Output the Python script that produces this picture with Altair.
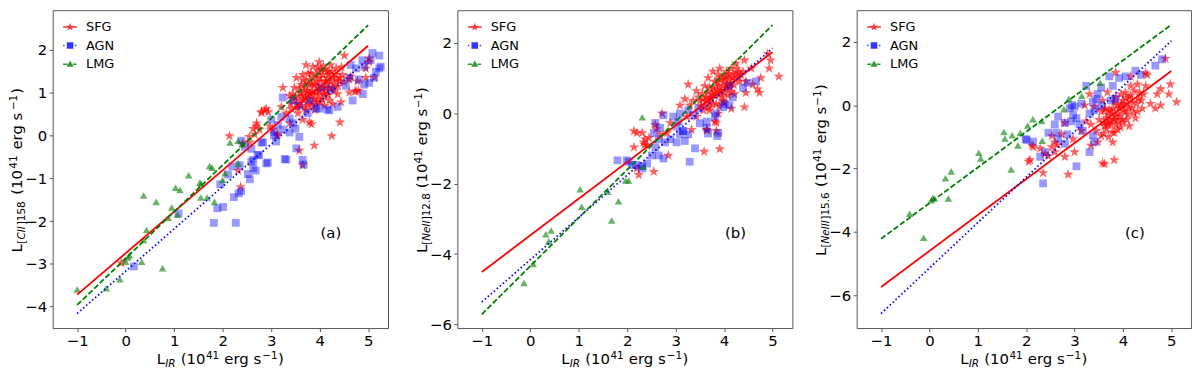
import math
import altair as alt
import pandas as pd

# ---------------- data ----------------
GROUPS = ["SFG", "AGN", "LMG"]
COLORS = ["#ff0000", "#0000ff", "#008000"]
X_TICKS = [-1, 0, 1, 2, 3, 4, 5]
A_Y_TICKS = [-4, -3, -2, -1, 0, 1, 2]
B_Y_TICKS = [-6, -4, -2, 0, 2]
C_Y_TICKS = [-6, -4, -2, 0, 2]
PANEL_LABELS = ["(a)", "(b)", "(c)"]

FIT_X = [-1.0, 5.0]
A_FIT_SFG = [-3.72, 2.10]
A_FIT_AGN = [-4.16, 1.78]
A_FIT_LMG = [-3.96, 2.58]
B_FIT_SFG = [-4.51, 1.73]
B_FIT_AGN = [-5.36, 1.84]
B_FIT_LMG = [-5.71, 2.50]
C_FIT_SFG = [-5.74, 1.08]
C_FIT_AGN = [-6.58, 2.03]
C_FIT_LMG = [-4.22, 2.54]

A_SFG = [(-0.09, -2.98), (2.14, -0.01), (2.32, -0.82), (2.37, -1.2), (2.41, -0.18), (2.55, -0.16),
         (2.55, -0.03), (2.63, 0.16), (2.66, 0.03), (2.7, 0.22), (2.7, 0.29), (2.76, 0.14), (2.8, 0.56),
         (2.8, 0.53), (2.87, 0.59), (2.9, 0.63), (2.94, 0.55), (2.97, 0.22), (3.03, 0.14), (3.14, 0.03),
         (3.12, 0.0), (3.21, 0.67), (3.24, 1.12), (3.31, 0.52), (3.38, 0.93), (3.38, 0.29), (3.41, 0.63),
         (3.4, 0.74), (3.45, 0.97), (3.45, 0.86), (3.48, 1.12), (3.52, 0.74), (3.52, 1.35), (3.55, 0.52),
         (3.58, 0.82), (3.58, -0.35), (3.62, 0.93), (3.62, 1.19), (3.65, 1.42), (3.65, 0.37), (3.65, -0.69),
         (3.72, 1.65), (3.72, 0.59), (3.72, 1.27), (3.75, 1.04), (3.79, 1.19), (3.79, 0.31), (3.82, 0.7),
         (3.82, 1.46), (3.83, 0.27), (3.86, 1.61), (3.89, -0.23), (3.89, 1.19), (3.93, 1.42), (3.93, 1.01),
         (3.96, 0.82), (3.99, 1.72), (4.03, 1.27), (4.03, 1.53), (4.1, 0.7), (4.1, 0.93), (4.13, 1.27),
         (4.13, 1.04), (4.16, 1.49), (4.2, 0.82), (4.23, 1.65), (4.25, -0.01), (4.27, 1.12), (4.27, 1.35),
         (4.27, 0.74), (4.34, 1.57), (4.37, 0.97), (4.4, 1.27), (4.42, 0.31), (4.44, 0.78), (4.47, 1.42),
         (4.51, 1.87), (4.61, 1.01), (4.61, 1.31), (4.64, 1.38), (4.73, 1.03), (4.75, 1.04), (4.78, 1.27),
         (4.8, 1.05), (4.95, 1.35), (4.95, 1.57), (5.02, 1.72), (5.02, 1.8), (5.13, 1.36),
         (3.7, 0.9), (3.85, 0.95), (3.95, 1.15), (4.05, 1.1), (3.75, 0.75), (3.9, 0.6), (4.0, 1.35),
         (4.15, 1.2), (3.68, 1.05), (3.8, 1.3), (4.2, 1.45), (4.3, 1.05), (3.6, 1.0), (3.55, 0.65),
         (4.05, 0.85), (3.98, 1.5), (4.35, 1.3), (3.9, 0.85), (4.08, 1.62), (3.85, 1.05),
         (3.62, 0.7), (3.66, 0.85), (3.7, 1.15), (3.74, 0.95), (3.78, 0.85), (3.8, 1.0), (3.84, 1.2),
         (3.88, 1.35), (3.92, 0.72), (3.94, 1.25), (3.97, 0.95), (4.0, 1.05), (4.02, 0.78), (4.06, 1.42),
         (4.08, 0.98), (4.12, 1.12), (4.15, 1.35), (4.18, 0.95), (4.22, 1.25), (4.25, 1.5), (4.3, 1.2),
         (4.33, 1.42), (4.38, 1.15), (4.42, 1.35), (4.45, 1.6), (4.5, 1.25), (3.5, 0.9), (3.58, 1.1),
         (3.66, 1.3), (3.76, 1.45), (3.86, 0.78), (4.12, 1.55), (4.2, 1.1), (3.96, 1.6), (3.7, 0.65)]
A_AGN = [(0.17, -3.06), (1.09, -1.82), (1.82, -2.04), (2.27, -2.04), (1.89, -1.7), (2.01, -1.67),
         (2.23, -1.44), (2.33, -1.35), (2.38, -1.3), (1.95, -1.14), (2.11, -0.91), (2.2, -0.72),
         (2.35, -0.69), (2.52, -0.9), (2.56, -1.02), (2.63, -0.76), (2.68, -0.82), (2.59, -0.61),
         (2.75, -0.46), (2.72, -0.45), (2.9, -0.65), (2.39, -0.12), (2.46, -0.26), (2.8, -0.16),
         (2.63, -0.57), (2.93, -0.63), (3.31, -0.56), (3.52, -0.3), (3.58, -0.03), (3.65, -0.57),
         (3.67, -0.68), (2.83, -0.16), (2.59, -0.31), (3.06, 0.0), (3.38, 0.07), (3.24, 0.14), (3.07, 0.07),
         (3.14, 0.25), (3.0, 0.37), (3.21, 0.44), (3.38, 0.4), (3.45, 0.29), (3.24, 0.89), (3.45, 0.82),
         (3.75, 0.52), (3.93, 0.63), (4.16, 0.61), (4.37, 0.67), (4.54, 1.16), (4.61, 1.35), (4.81, 1.31),
         (4.75, 1.57), (4.92, 1.61), (5.02, 1.23), (5.12, 1.35), (5.05, 1.76), (5.09, 1.93), (5.26, 1.61),
         (5.16, 1.49), (4.88, 1.76), (4.64, 1.65), (4.03, 1.12), (4.23, 1.08), (3.79, 0.82), (3.58, 0.7),
         (4.89, 0.97), (4.92, 1.19), (5.23, 1.87), (5.23, 1.57), (4.68, 0.82), (4.2, 0.59), (4.0, 0.63),
         (3.5, 0.16), (3.28, -0.55), (3.1, -0.14)]
A_LMG = [(-1.0, -3.6), (-0.4, -3.57), (-0.12, -3.36), (0.0, -2.95), (0.05, -2.85), (0.08, -2.8),
         (0.33, -2.95), (0.37, -2.44), (0.43, -2.21), (0.76, -3.1), (0.37, -1.4), (0.63, -1.55),
         (0.88, -1.92), (0.95, -1.68), (1.03, -1.22), (1.12, -1.27), (1.07, -1.85), (1.3, -0.93),
         (1.53, -1.1), (1.56, -1.13), (1.55, -1.45), (1.68, -1.45), (1.73, -0.71), (1.78, -0.75),
         (1.83, -1.55), (2.0, -1.04), (2.05, -0.88), (2.15, -0.16), (2.32, -0.12), (2.32, -0.65), (2.4, -0.2)]

B_SFG = [(2.14, -0.51), (2.2, -0.56), (2.31, -0.56), (2.37, -0.74), (2.34, -0.83), (2.41, -0.92),
         (2.14, -0.97), (2.2, -1.57), (2.24, -1.75), (2.55, -1.66), (2.58, -0.33), (2.72, -0.01),
         (2.82, -0.56), (2.85, -1.2), (2.89, -0.28), (2.6, -0.45), (2.68, -0.6), (3.09, 0.22), (3.19, 0.4),
         (3.26, 0.81), (3.43, 0.63), (3.33, -0.47), (3.59, -1.09), (3.64, -0.47), (3.84, -0.51),
         (3.91, -1.02), (3.81, -0.24), (3.7, 0.08), (3.67, 1.0), (3.91, 0.54), (4.05, 0.81), (4.18, 1.0),
         (4.15, 1.27), (4.25, 1.41), (4.39, 1.18), (4.42, 1.5), (4.56, 1.27), (4.59, 0.81), (4.69, 0.68),
         (4.73, 0.58), (4.76, 1.0), (4.93, 1.27), (4.96, 1.5), (4.9, 1.68), (5.13, 1.04), (4.42, 0.17),
         (4.15, 0.13), (3.64, 0.45), (3.5, 0.35), (3.7, 0.72), (3.81, 0.9), (3.94, 1.0), (4.05, 1.18),
         (3.98, 0.35), (3.84, 0.26), (3.57, 0.08), (3.43, -0.1), (3.23, -0.1), (3.36, 0.35), (3.77, 1.18),
         (3.91, 1.27), (4.32, 0.9), (4.11, 0.72), (4.45, 0.9), (3.6, 0.77), (3.47, 0.45), (3.29, 0.22),
         (3.74, 0.4), (4.01, 0.58), (4.21, 0.54), (3.88, -0.01), (4.25, 1.09), (4.45, 0.58), (3.65, -0.49),
         (3.84, -0.27), (2.36, -0.9), (2.45, -0.7),
         (3.8, 0.6), (3.9, 0.75), (4.0, 0.9), (4.1, 0.95), (3.75, 0.55), (3.95, 0.45), (4.2, 0.8),
         (3.85, 0.85), (4.05, 1.05), (3.7, 0.3), (3.6, 0.2), (4.3, 1.15), (3.9, 0.2), (4.15, 0.6), (3.55, 0.55),
         (3.66, 0.6), (3.72, 0.45), (3.78, 0.7), (3.82, 0.5), (3.86, 0.65), (3.9, 0.95), (3.94, 0.62),
         (3.98, 0.78), (4.02, 1.0), (4.06, 0.7), (4.1, 1.1), (4.14, 0.85), (4.18, 1.12), (4.22, 0.95),
         (4.26, 1.25), (4.3, 1.0), (4.35, 1.1), (3.62, 0.35), (3.68, 0.15), (3.76, 0.25), (4.0, 0.3),
         (3.52, 0.2), (3.58, 0.4), (4.08, 0.5), (3.88, 1.1)]
B_AGN = [(1.8, -1.34), (1.99, -1.34), (2.03, -1.38), (2.1, -1.47), (2.19, -1.47), (2.31, -1.5),
         (2.31, -1.57), (2.41, -1.43), (2.51, -1.2), (2.65, -1.2), (2.75, -1.29), (3.29, -1.38), (3.4, -1.0),
         (2.58, -0.97), (2.55, -0.56), (2.65, -0.74), (2.78, -0.83), (2.89, -0.74), (3.02, -0.83),
         (3.19, -0.79), (3.09, -0.6), (3.26, -0.6), (3.16, -0.51), (3.02, -0.38), (2.58, -0.28),
         (2.68, -0.42), (2.75, -0.06), (2.95, -0.1), (3.09, -0.01), (3.26, 0.08), (3.36, -0.06),
         (3.47, 0.13), (3.64, -0.24), (3.64, -0.42), (3.81, -0.1), (3.98, 0.17), (4.11, 0.22), (3.5, -0.29),
         (3.67, -0.58), (3.86, -0.65), (3.88, -0.56), (3.83, -0.01), (4.01, 0.26), (4.18, 0.45),
         (4.11, 0.77), (4.39, 0.72), (4.49, 0.86), (4.66, 0.9), (3.15, -0.51), (3.06, -0.24)]
B_LMG = [(-0.13, -4.82), (0.06, -4.28), (0.32, -3.44), (0.43, -3.33), (0.38, -3.64), (1.03, -2.16),
         (1.06, -2.66), (1.68, -3.05), (1.6, -2.23), (1.82, -2.5), (1.97, -1.91), (2.03, -1.91),
         (2.31, -0.12), (2.33, -1.52)]

C_SFG = [(2.12, -1.27), (2.08, -1.73), (2.05, -1.78), (2.15, -1.32), (2.29, -1.37), (2.39, -1.53),
         (2.53, -1.32), (2.59, -1.48), (2.73, -0.92), (2.8, -1.63), (2.35, -2.14), (2.87, -2.19),
         (2.8, -0.56), (3.21, 0.0), (3.31, 0.35), (3.68, 0.41), (3.34, -0.61), (3.45, -0.81), (3.55, -0.97),
         (3.62, -0.66), (3.72, -0.16), (3.82, -0.46), (3.89, -0.26), (3.96, 0.0), (4.02, -0.16), (4.09, 0.05),
         (4.13, 0.25), (4.23, 0.45), (4.16, 0.61), (4.3, 0.66), (4.47, 0.61), (4.5, 0.96), (4.71, 0.35),
         (4.78, 0.0), (4.98, 0.66), (4.95, 0.35), (5.11, 0.1), (4.88, 1.47), (4.16, 0.91), (3.82, -0.87),
         (3.79, -1.17), (3.58, -1.83), (3.62, -1.86), (3.82, -1.73), (3.34, -1.27), (3.48, -1.17),
         (3.99, -0.46), (4.13, -0.66), (4.26, -0.41), (4.4, -0.1), (4.57, 0.05), (4.78, 0.51), (3.62, -0.16),
         (3.58, 0.15), (3.82, 0.1), (3.96, 0.35), (4.33, 0.2), (4.19, -0.1), (4.43, 0.35), (3.41, -0.05),
         (3.51, -0.46), (3.24, -0.51), (3.14, -0.81), (3.0, -1.48), (2.59, -1.17), (2.53, -0.97),
         (2.97, -1.07), (4.47, 1.01), (3.68, -0.56), (3.89, -0.77), (4.67, -0.1), (3.85, 1.03), (2.45, -1.6),
         (2.65, -1.25),
         (3.7, -0.3), (3.8, -0.1), (3.9, -0.5), (4.0, 0.15), (4.1, -0.3), (3.75, -0.6), (3.65, -0.4),
         (4.05, 0.4), (3.95, -0.7), (4.2, 0.1), (3.85, 0.25), (3.6, -0.9), (3.7, -1.0), (4.3, -0.2), (3.55, -0.2),
         (3.66, -0.75), (3.72, -0.5), (3.76, -0.2), (3.78, -0.85), (3.84, -0.35), (3.86, -0.62), (3.92, -0.1),
         (3.94, -0.35), (3.98, 0.05), (4.04, -0.2), (4.06, 0.22), (4.12, -0.08), (4.16, 0.3), (4.22, -0.25),
         (4.28, 0.05), (4.34, 0.4), (4.38, 0.15), (3.7, -0.62), (3.8, -0.45), (3.88, 0.0), (4.0, -0.55),
         (4.08, -0.45), (3.6, -0.55), (3.64, -0.1)]
C_AGN = [(1.99, -1.07), (2.01, -1.1), (2.14, -1.15), (2.35, -2.47), (2.29, -1.63), (2.39, -1.48),
         (2.46, -0.87), (2.59, -0.61), (2.63, -0.87), (2.66, -1.07), (2.8, -1.22), (2.66, -0.36), (2.8, -0.56),
         (2.97, -0.31), (2.9, -0.1), (3.0, -0.05), (2.93, -0.51), (3.04, -0.41), (3.1, -0.61), (3.17, -0.81),
         (2.85, -0.92), (3.14, 0.05), (3.24, 0.61), (3.38, 0.1), (3.31, -0.26), (3.41, -0.16), (3.48, 0.35),
         (3.55, 0.56), (3.45, 0.2), (3.55, 0.0), (3.75, 0.15), (3.85, 0.2), (3.72, 0.91), (3.79, 0.61),
         (3.92, 0.86), (4.06, 0.91), (4.26, 1.09), (4.37, 0.96), (4.67, 1.25), (4.81, 1.45), (3.04, -1.93),
         (3.31, -1.48), (3.41, -1.17), (3.38, -0.95), (2.95, 0.0)]
C_LMG = [(-0.41, -3.43), (-0.12, -4.19), (0.04, -3.0), (0.07, -2.93), (0.1, -2.95), (0.39, -2.95),
         (0.33, -2.31), (0.45, -2.09), (1.02, -1.5), (1.06, -1.68), (1.69, -2.03), (1.54, -0.85),
         (1.56, -1.05), (1.71, -0.95), (1.83, -1.27), (1.88, -0.87), (2.03, -0.64), (2.14, -0.44),
         (2.32, -0.5), (2.33, -1.12), (2.78, -0.13), (2.88, 0.2), (3.15, 0.3), (3.53, 0.71)]

# ---------------- styling / layout ----------------
FONT = "DejaVu Sans"
MAIN, SUB = 15, 10.5
H = 320
XDOM = [-1.505, 5.41]
A_YDOM = [-4.5, 2.93]
B_YDOM = [-6.1, 2.92]
C_YDOM = [-7.04, 3.0]

CW = {' ': 0.318, '(': 0.39, ')': 0.39, '[': 0.39, ']': 0.39, '.': 0.318, '\u2212': 0.838,
      'L': 0.557, 'I': 0.295, 'R': 0.695, 'C': 0.698, 'N': 0.748, 'e': 0.615, 'r': 0.411,
      'g': 0.635, 's': 0.521}


def cw(ch):
    return 0.636 if ch.isdigit() else CW.get(ch, 0.6)


def star(r, inner=0.382):
    pts = []
    for k in range(10):
        ang = math.radians(-90 + 36 * k)
        rr = r if k % 2 == 0 else r * inner
        pts.append(f"{rr * math.cos(ang):.4f},{rr * math.sin(ang):.4f}")
    return "M" + "L".join(pts) + "Z"


def rect(x0, x1, h=0.125):
    return f"M{x0},{-h}L{x1},{-h}L{x1},{h}L{x0},{h}Z"


STAR = star(1.0)
HALF = 7 / 6
LEG_PATHS = [
    rect(-HALF, HALF) + star(0.72),
    rect(-HALF, -0.92) + rect(-0.51, -0.26) + rect(0.81, 1.06) + "M-0.55,-0.55L0.55,-0.55L0.55,0.55L-0.55,0.55Z",
    rect(-HALF, -0.45) + rect(0.45, 1.08) + "M0,-0.6L0.6,0.45L-0.6,0.45Z",
]

SUP_SHIFT = -4.5
SUB_SHIFT = 3


def tail():
    return [(" ", MAIN, "normal", 0), ("(10", MAIN, "normal", 0), ("41", SUB, "normal", SUP_SHIFT),
            (" ", MAIN, "normal", 0), ("erg s", MAIN, "normal", 0), ("\u22121", SUB, "normal", SUP_SHIFT),
            (")", MAIN, "normal", 0)]


X_TITLE = [("L", MAIN, "normal", 0), ("IR", SUB, "italic", SUB_SHIFT)] + tail()


def y_title(species, num):
    return [("L", MAIN, "normal", 0), ("[", SUB, "normal", SUB_SHIFT), (species, SUB, "italic", SUB_SHIFT),
            ("]" + num, SUB, "normal", SUB_SHIFT)] + tail()


def text_layer(s, x, y, fs, style="normal", angle=None, align="left", baseline="alphabetic"):
    kw = dict(text=s, fontSize=fs, font=FONT, fontStyle=style, align=align,
              baseline=baseline, color="black")
    if angle is not None:
        kw["angle"] = angle
    return alt.Chart(alt.Data(values=[{}])).mark_text(**kw).encode(
        x=alt.value(x), y=alt.value(y))


def title_layers(pieces, target, vertical, width):
    widths = [sum(cw(c) for c in t) * fs for t, fs, _, _ in pieces]
    k = target / sum(widths)
    out = []
    off = 0.0
    for (t, fs, style, shift), w in zip(pieces, widths):
        if t.strip():
            if vertical:
                y0 = H / 2 + 1 + target / 2
                out.append(text_layer(t, -31 + shift, y0 - off, fs, style, angle=270))
            else:
                x0 = width / 2 - target / 2
                out.append(text_layer(t, x0 + off, H + 36 + shift, fs, style))
        off += w * k
    return out


def pts_df(pairs):
    return pd.DataFrame(pairs, columns=["x", "y"])


LEGEND = alt.Legend(orient="none", legendX=11, legendY=10.4, title=None, labelFontSize=13,
                    labelFont=FONT, labelColor="black", symbolSize=144, symbolStrokeWidth=0,
                    symbolOpacity=0.8, rowPadding=4.7, labelOffset=9.5, padding=0,
                    direction="vertical")


def panel(width, sfg, agn, lmg, fits, ydom, yticks, ytitle, ylen, label):
    xenc = alt.X("x:Q", scale=alt.Scale(domain=XDOM, nice=False, zero=False),
                 axis=alt.Axis(values=X_TICKS, title=None, format="d"))
    yenc = alt.Y("y:Q", scale=alt.Scale(domain=ydom, nice=False, zero=False),
                 axis=alt.Axis(values=yticks, title=None, format="d"))
    layers = [
        alt.Chart(pts_df(sfg)).mark_point(shape=STAR, filled=True, size=125, color=COLORS[0],
                                          opacity=0.62, strokeWidth=0).encode(x=xenc, y=yenc),
        alt.Chart(pts_df(agn)).mark_point(shape="square", filled=True, size=62, color=COLORS[1],
                                          opacity=0.4, strokeWidth=0).encode(x=xenc, y=yenc),
        alt.Chart(pts_df(lmg)).mark_point(shape="triangle-up", filled=True, size=58, color=COLORS[2],
                                          opacity=0.6, strokeWidth=0).encode(x=xenc, y=yenc),
    ]
    dashes = [None, [1.5, 2.5], [5.5, 2.4]]
    for yv, col, dash in zip(fits, COLORS, dashes):
        kw = dict(color=col, strokeWidth=1.8)
        if dash:
            kw["strokeDash"] = dash
        layers.append(alt.Chart(pd.DataFrame({"x": FIT_X, "y": yv})).mark_line(**kw)
                      .encode(x=xenc, y=yenc))
    fit_df = pd.DataFrame({"x": FIT_X * 3, "y": fits[0] + fits[1] + fits[2],
                           "group": [g for g in GROUPS for _ in FIT_X]})
    layers.append(alt.Chart(fit_df).mark_point(filled=True, opacity=0).encode(
        x=xenc, y=yenc,
        color=alt.Color("group:N", scale=alt.Scale(domain=GROUPS, range=COLORS), legend=LEGEND),
        shape=alt.Shape("group:N", scale=alt.Scale(domain=GROUPS, range=LEG_PATHS), legend=LEGEND)))
    layers += title_layers(X_TITLE, 128, False, width)
    layers += title_layers(ytitle, ylen, True, width)
    layers.append(text_layer(label, 280, 0.7 * H, 15, align="center", baseline="middle"))
    return alt.layer(*layers).properties(width=width, height=H)


pa = panel(337.6, A_SFG, A_AGN, A_LMG, [A_FIT_SFG, A_FIT_AGN, A_FIT_LMG], A_YDOM, A_Y_TICKS,
           y_title("CII", "158"), 166, PANEL_LABELS[0])
pb = panel(337.3, B_SFG, B_AGN, B_LMG, [B_FIT_SFG, B_FIT_AGN, B_FIT_LMG], B_YDOM, B_Y_TICKS,
           y_title("NeII", "12.8"), 167, PANEL_LABELS[1])
pc = panel(336.7, C_SFG, C_AGN, C_LMG, [C_FIT_SFG, C_FIT_AGN, C_FIT_LMG], C_YDOM, C_Y_TICKS,
           y_title("NeIII", "15.6"), 173, PANEL_LABELS[2])


def indep(ch):
    return ch.resolve_scale(x="independent", y="independent", color="independent",
                            shape="independent").resolve_legend(color="independent",
                                                                shape="independent")


inner = indep(alt.hconcat(pb, pc, spacing=64, bounds="flush"))
chart = indep(alt.hconcat(pa, inner, spacing=69.4, bounds="flush"))
chart = chart.properties(padding={"left": 1, "top": 0, "right": 0, "bottom": 0}).configure_view(
    stroke="#555555", strokeWidth=1
).configure_axis(
    grid=False, domain=False, ticks=True, tickColor="#555555", tickSize=3.5, tickWidth=1,
    labelFont=FONT, labelFontSize=15, labelColor="black", labelPadding=2.5
)

chart.save("out.html", embed_options={"renderer": "svg", "actions": False})
